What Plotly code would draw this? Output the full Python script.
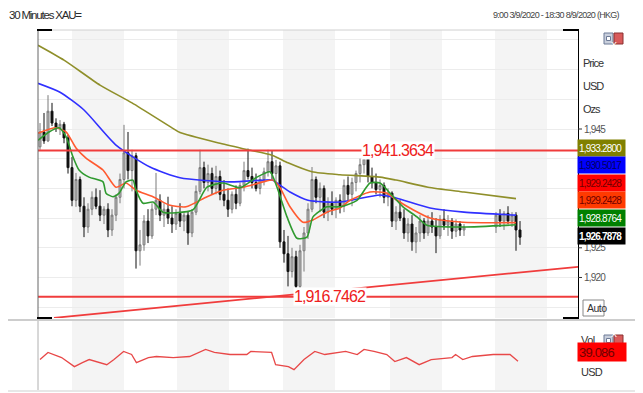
import plotly.graph_objects as go

# ---------------- data ----------------
bar_x = list(range(0, 107)) + list(range(114, 121))
bar_open = [1942.0, 1944.5, 1943.0, 1948.0, 1946.0, 1945.2, 1945.8, 1943.5, 1938.5, 1933.0,
            1936.5, 1932.0, 1928.5, 1931.5, 1933.5, 1932.0, 1930.5, 1931.5, 1928.0, 1930.5,
            1933.5, 1936.5, 1941.0, 1938.0, 1940.5, 1924.5, 1925.5, 1929.5, 1927.0, 1931.5,
            1933.0, 1930.5, 1931.5, 1930.0, 1929.0, 1930.8, 1929.5, 1930.5, 1927.5, 1931.0,
            1934.5, 1938.5, 1936.0, 1937.5, 1935.0, 1937.0, 1934.0, 1933.0, 1931.5, 1934.0,
            1932.5, 1935.5, 1938.0, 1937.0, 1936.0, 1935.0, 1936.5, 1937.8, 1939.5, 1937.5,
            1938.8, 1926.0, 1924.0, 1921.0, 1923.5, 1918.5, 1924.5, 1927.5, 1931.5, 1936.5,
            1933.5, 1935.0, 1931.0, 1932.5, 1931.5, 1933.0, 1932.0, 1935.5, 1934.0, 1936.0,
            1937.5, 1939.0, 1940.0, 1937.0, 1936.0, 1934.8, 1935.5, 1933.5, 1934.2, 1929.5,
            1931.0, 1930.0, 1927.5, 1929.0, 1926.0, 1927.5, 1929.5, 1927.5, 1929.5, 1928.5,
            1927.0, 1929.8, 1928.8, 1929.5, 1927.8, 1929.0, 1928.0,
            1928.5, 1930.5, 1929.5, 1930.8, 1929.5, 1930.5, 1928.0]
bar_high = [1946.0, 1947.7, 1950.7, 1949.4, 1946.8, 1946.5, 1946.2, 1944.0, 1940.3, 1937.6,
            1937.0, 1933.5, 1932.5, 1934.5, 1935.0, 1934.7, 1932.0, 1932.5, 1931.5, 1934.0,
            1937.5, 1945.7, 1944.5, 1941.5, 1941.0, 1928.0, 1930.5, 1931.5, 1932.5, 1937.6,
            1934.0, 1932.5, 1933.6, 1932.0, 1931.5, 1932.5, 1931.0, 1931.2, 1931.5, 1935.5,
            1941.5, 1939.5, 1939.0, 1938.5, 1938.8, 1938.0, 1936.4, 1935.0, 1934.5, 1935.5,
            1936.0, 1939.5, 1941.7, 1938.5, 1937.5, 1937.0, 1938.5, 1941.5, 1941.3, 1939.8,
            1939.5, 1928.0, 1927.0, 1925.0, 1924.5, 1925.5, 1928.5, 1932.5, 1938.6, 1937.0,
            1936.0, 1935.5, 1933.5, 1934.5, 1933.5, 1934.0, 1936.5, 1937.0, 1936.8, 1938.0,
            1940.0, 1941.0, 1940.8, 1938.5, 1937.5, 1936.5, 1936.0, 1935.0, 1934.5, 1932.0,
            1933.0, 1931.5, 1930.0, 1930.5, 1928.5, 1930.5, 1930.0, 1930.5, 1931.0, 1930.0,
            1930.5, 1931.5, 1930.5, 1930.0, 1929.8, 1929.5, 1929.0,
            1931.0, 1931.5, 1931.2, 1932.0, 1931.0, 1931.0, 1929.5]
bar_low = [1941.5, 1942.5, 1942.8, 1945.5, 1944.5, 1944.0, 1942.6, 1937.5, 1932.0, 1931.9,
           1931.0, 1926.8, 1927.5, 1930.5, 1931.5, 1929.5, 1929.0, 1926.8, 1927.0, 1929.5,
           1932.5, 1935.0, 1936.5, 1934.5, 1921.5, 1922.0, 1924.5, 1925.8, 1926.5, 1930.5,
           1929.5, 1928.5, 1929.0, 1927.5, 1928.0, 1928.5, 1927.8, 1925.5, 1926.8, 1930.5,
           1934.0, 1935.0, 1934.5, 1934.0, 1934.0, 1933.0, 1932.0, 1930.2, 1930.8, 1931.5,
           1932.0, 1934.5, 1936.5, 1935.0, 1934.5, 1934.0, 1935.5, 1937.0, 1936.5, 1936.0,
           1925.0, 1922.5, 1918.5, 1920.0, 1916.8, 1917.5, 1921.0, 1926.5, 1931.0, 1932.5,
           1931.0, 1930.0, 1929.5, 1930.5, 1930.0, 1930.8, 1931.0, 1933.0, 1932.0, 1934.5,
           1936.0, 1937.5, 1936.0, 1935.0, 1934.0, 1933.5, 1932.5, 1932.0, 1928.5, 1928.0,
           1929.5, 1926.5, 1926.0, 1924.5, 1924.1, 1926.0, 1926.5, 1927.0, 1927.5, 1924.1,
           1926.5, 1928.0, 1927.0, 1926.5, 1926.8, 1927.0, 1927.0,
           1927.5, 1928.5, 1928.0, 1929.0, 1928.5, 1924.5, 1925.5]
bar_close = [1944.5, 1943.0, 1948.0, 1946.0, 1945.2, 1945.8, 1943.5, 1938.5, 1933.0, 1936.5,
             1932.0, 1928.5, 1931.5, 1933.5, 1932.0, 1930.5, 1931.5, 1928.0, 1930.5, 1933.5,
             1936.5, 1941.0, 1938.0, 1940.5, 1924.5, 1925.5, 1929.5, 1927.0, 1931.5, 1933.0,
             1930.5, 1931.5, 1930.0, 1929.0, 1930.8, 1929.5, 1930.5, 1927.5, 1931.0, 1934.5,
             1938.5, 1936.0, 1937.5, 1935.0, 1937.0, 1934.0, 1933.0, 1931.5, 1934.0, 1932.5,
             1935.5, 1938.0, 1937.0, 1936.0, 1935.0, 1936.5, 1937.8, 1939.5, 1937.5, 1938.8,
             1926.0, 1924.0, 1921.0, 1923.5, 1918.5, 1924.5, 1927.5, 1931.5, 1936.5, 1933.5,
             1935.0, 1931.0, 1932.5, 1931.5, 1933.0, 1932.0, 1935.5, 1934.0, 1936.0, 1937.5,
             1939.0, 1940.0, 1937.0, 1936.0, 1934.8, 1935.5, 1933.5, 1934.2, 1929.5, 1931.0,
             1930.0, 1927.5, 1929.0, 1926.0, 1927.5, 1929.5, 1927.5, 1929.5, 1928.5, 1927.0,
             1929.8, 1928.8, 1929.5, 1927.8, 1929.0, 1928.0, 1928.5,
             1930.5, 1929.5, 1930.8, 1929.5, 1930.5, 1928.0, 1926.7878]

olive_x = [-0.5, 6, 15, 23, 33, 35, 45, 52, 58, 62, 68, 75, 85, 89, 97, 106, 119]
olive_y = [1959.1, 1956.6, 1952.4, 1949.4, 1945.2, 1944.4, 1942.6, 1941.5, 1940.6, 1939.3,
           1937.8, 1937.3, 1936.9, 1936.4, 1935.2, 1934.4, 1933.28]

blue_x = [-0.5, 5, 11, 19, 27.5, 35, 47.5, 56, 58, 62.5, 67, 75, 85, 89, 97.5, 106, 119]
blue_y = [1952.7, 1951.2, 1948.2, 1942.3, 1938.6, 1936.8, 1936.1, 1936.4, 1936.4, 1934.4,
          1933.0, 1932.7, 1933.9, 1933.4, 1931.7, 1931.0, 1930.5017]

red_x = [-0.5, 4, 6.5, 9, 11.5, 15.75, 19, 21.5, 24, 28.25, 32.25, 36.5, 41.75, 45.75, 50.75,
         55.75, 58.25, 60, 62.5, 65.75, 68.25, 71.75, 75, 77.5, 82.5, 86.75, 89.25, 93.25,
         97.5, 105.75, 119]
red_y = [1944.3, 1945.2, 1944.5, 1941.8, 1940.1, 1938.1, 1935.2, 1935.9, 1934.7, 1933.6,
         1932.2, 1931.9, 1933.6, 1934.7, 1935.2, 1936.1, 1936.4, 1935.1, 1931.9, 1929.3,
         1929.7, 1931.0, 1931.7, 1933.0, 1934.4, 1934.2, 1933.0, 1931.4, 1930.0, 1929.3,
         1929.2428]

green_x = [-0.5, 2.25, 4.75, 6.5, 8.25, 9.75, 12.25, 15.75, 16.5, 18.25, 19.75, 21.5, 23.25,
           24, 25.75, 28.25, 30.75, 34, 38.25, 41.75, 45.75, 50, 54.25, 57.5, 59.25, 61.75,
           64.25, 66.75, 68.25, 71.75, 75, 79.25, 82.5, 85, 87.5, 90.75, 94.25, 96.75,
           105.75, 119]
green_y = [1943.1, 1944.5, 1945.2, 1943.7, 1940.3, 1938.1, 1936.9, 1936.1, 1934.2, 1933.6,
           1934.2, 1936.1, 1936.4, 1934.7, 1932.5, 1932.7, 1931.0, 1930.9, 1931.4, 1935.2,
           1935.9, 1935.1, 1936.9, 1937.8, 1935.2, 1930.2, 1926.6, 1926.8, 1930.2, 1931.9,
           1931.9, 1933.0, 1935.9, 1935.9, 1934.2, 1931.9, 1930.2, 1928.8, 1928.5, 1928.8764]

resistance_level = 1941.3634
support_level = 1916.7462
trend_x = [3.5, 134.5]
trend_y = [1913.2, 1921.8]

vol_x = [0, 2, 5.4, 8.6, 10.6, 12.3, 16.7, 18.5, 20.9, 22.9, 24.1, 27.1, 29.1, 33.3, 37.4,
         41.4, 43.6, 47.5, 51.7, 52.7, 57.9, 58.9, 62.1, 63.5, 66, 68.7, 71.2, 76.4, 79.3,
         81, 83.5, 86.7, 88.7, 91.6, 94.8, 97.8, 103, 103.9, 105.7, 108.1, 113.3, 117.5, 119.5]
vol_y = [40.9, 48.1, 42.9, 33.7, 37.8, 40.9, 35.7, 40.9, 49.1, 46.0, 37.8, 42.9, 44.0, 42.9,
         44.0, 51.2, 48.1, 46.0, 46.0, 49.1, 48.1, 35.7, 33.7, 30.6, 40.9, 49.1, 46.0, 49.1,
         46.0, 51.2, 49.1, 46.0, 38.8, 42.9, 35.7, 40.9, 42.9, 46.0, 40.9, 44.0, 46.0, 46.0,
         39.086]

band_start = [8, 34.25, 60.75, 87.5, 113.75]
band_end = [21, 47.25, 73.75, 100.5, 126.75]

price_label_vals = [1945, 1925, 1920]
price_label_text = ["1,945", "1,925", "1,920"]

legend_labels = ["1,933.2800", "1,930.5017", "1,929.2428", "1,929.2428", "1,928.8764", "1,926.7878"]
legend_bg = ["#808000", "#0000ff", "#ff0000", "#ff3a00", "#008000", "#000000"]
legend_fg = ["#ffffff", "#000060", "#700000", "#700000", "#ffffff", "#ffffff"]

# ---------------- figure ----------------
# the page body has an 8px margin, so the figure is drawn 8px in from the window corner
OFF = 8
W, H = 643 - OFF, 393 - OFF
def px(x):
    return (x - OFF) / W
def py(y):
    return 1 - (y - OFF) / H

FONT = "Liberation Sans, Arial, sans-serif"

def sq(t, ls):
    return '<span style="letter-spacing:%spx">%s</span>' % (ls, t)

fig = go.Figure()

fig.add_trace(go.Candlestick(
    x=bar_x, open=bar_open, high=bar_high, low=bar_low, close=bar_close,
    increasing=dict(line=dict(color="#7a7a7a", width=1), fillcolor="#bdbdbd"),
    decreasing=dict(line=dict(color="#111111", width=1), fillcolor="#111111"),
    whiskerwidth=0, showlegend=False, xaxis="x", yaxis="y"))

for xs, ys, col in [(olive_x, olive_y, "#8f8f2a"), (blue_x, blue_y, "#3030ff"),
                    (red_x, red_y, "#ff5a30"), (green_x, green_y, "#2f9a2f")]:
    fig.add_trace(go.Scatter(x=xs, y=ys, mode="lines",
                             line=dict(color=col, width=1.6, shape="spline", smoothing=0.6),
                             showlegend=False, hoverinfo="skip", xaxis="x", yaxis="y"))

for lvl in (resistance_level, support_level):
    fig.add_trace(go.Scatter(x=[-0.5, 134.5], y=[lvl, lvl], mode="lines",
                             line=dict(color="#f03c3c", width=2),
                             showlegend=False, hoverinfo="skip", xaxis="x", yaxis="y"))
fig.add_trace(go.Scatter(x=trend_x, y=trend_y, mode="lines",
                         line=dict(color="#f03c3c", width=1.8),
                         showlegend=False, hoverinfo="skip", xaxis="x", yaxis="y"))

fig.add_trace(go.Scatter(x=vol_x, y=vol_y, mode="lines",
                         line=dict(color="#e84848", width=1.3),
                         showlegend=False, hoverinfo="skip", xaxis="x2", yaxis="y2"))

shapes = []
for s, e in zip(band_start, band_end):
    shapes.append(dict(type="rect", xref="x", yref="paper", x0=s, x1=e,
                       y0=py(318), y1=py(30), fillcolor="#f4f4f4", line_width=0, layer="below"))
    shapes.append(dict(type="rect", xref="x", yref="paper", x0=s, x1=e,
                       y0=py(390), y1=py(321), fillcolor="#f4f4f4", line_width=0, layer="below"))

def pline(x0, y0, x1, y1, color, width=1):
    shapes.append(dict(type="line", xref="paper", yref="paper", x0=px(x0), y0=py(y0),
                       x1=px(x1), y1=py(y1), line=dict(color=color, width=width)))

pline(38, 30, 578, 30, "#d0d0d0", 1)        # plot top
pline(38, 30, 38, 318, "#666666", 1)        # plot left
pline(8, 320, 643, 320, "#bdbdbd", 1.5)     # pane separator
pline(38, 321, 38, 390, "#b0b0b0", 1)       # lower pane left
pline(8, 391, 643, 391, "#cfcfcf", 1)       # bottom
for (a, b, c, d) in [(37, 30, 52, 30), (563, 30, 579, 30), (37, 318, 52, 318), (563, 318, 579, 318)]:
    pline(a, b, c, d, "#000000", 2)
# price tick marks
for v in price_label_vals:
    shapes.append(dict(type="line", xref="paper", yref="y", x0=px(578), x1=px(582), y0=v, y1=v,
                       line=dict(color="#333333", width=1)))

# icons
for ytop in (33, 335):
    shapes.append(dict(type="rect", xref="paper", yref="paper", x0=px(604), x1=px(613),
                       y0=py(ytop + 11), y1=py(ytop), fillcolor="#c9cfdc",
                       line=dict(color="#6d7a96", width=1)))
    shapes.append(dict(type="rect", xref="paper", yref="paper", x0=px(606.5), x1=px(610.5),
                       y0=py(ytop + 7.5), y1=py(ytop + 3.5), fillcolor="#ffffff",
                       line=dict(color="#6d7a96", width=1)))
    shapes.append(dict(type="rect", xref="paper", yref="paper", x0=px(614), x1=px(623),
                       y0=py(ytop + 11), y1=py(ytop), fillcolor="#d85a5a",
                       line=dict(color="#8a3030", width=1)))
# Auto box
shapes.append(dict(type="rect", xref="paper", yref="paper", x0=px(583), x1=px(604),
                   y0=py(316), y1=py(300), fillcolor="#ffffff", line=dict(color="#888888", width=1)))

ann = []
ann.append(dict(text=sq("30 Minutes XAU=", -1.2), x=px(7), y=py(15), xref="paper", yref="paper",
                xanchor="left", yanchor="middle", showarrow=False,
                font=dict(family=FONT, size=11.5, color="#2a2a2a")))
ann.append(dict(text=sq("9:00 3/9/2020 - 18:30 8/9/2020 (HKG)", -0.7), x=px(622), y=py(15),
                xref="paper", yref="paper", xanchor="right", yanchor="middle", showarrow=False,
                font=dict(family=FONT, size=9, color="#444444")))
for t, yy in [("Price", 63), ("USD", 86), ("Ozs", 109)]:
    ann.append(dict(text=sq(t, -1), x=px(581), y=py(yy), xref="paper", yref="paper",
                    xanchor="left", yanchor="middle", showarrow=False,
                    font=dict(family=FONT, size=11, color="#333333")))
for v, t in zip(price_label_vals, price_label_text):
    ann.append(dict(text=sq(t, -0.8), x=px(582), y=v, xref="paper", yref="y", xanchor="left",
                    yanchor="middle", showarrow=False,
                    font=dict(family=FONT, size=10, color="#555555")))
for k, (lab, bg, fg) in enumerate(zip(legend_labels, legend_bg, legend_fg)):
    yc = 147.5 + k * 17.6
    txt = sq(lab, -0.8)
    if k == len(legend_labels) - 1:
        txt = "<b>%s</b>" % txt
    ann.append(dict(text=txt, x=px(577), y=py(yc), xref="paper", yref="paper", xanchor="left",
                    yanchor="middle", showarrow=False, bgcolor=bg, width=45, height=14,
                    borderpad=1, align="left",
                    font=dict(family=FONT, size=10, color=fg)))
ann.append(dict(text=sq("Auto", -0.5), x=px(584.5), y=py(308), xref="paper", yref="paper",
                xanchor="left", yanchor="middle", showarrow=False,
                font=dict(family=FONT, size=10.5, color="#333333")))
for ytop in (33, 335):
    ann.append(dict(text="X", x=px(618.5), y=py(ytop + 5.5), xref="paper", yref="paper",
                    showarrow=False, font=dict(family=FONT, size=9, color="#ffffff")))
ann.append(dict(text=sq("1,941.3634", -0.9), x=89.5, y=resistance_level, xref="x", yref="y",
                showarrow=False, bgcolor="#ffffff", borderpad=0,
                font=dict(family=FONT, size=16, color="#ee2020")))
ann.append(dict(text=sq("1,916.7462", -0.9), x=72.5, y=support_level, xref="x", yref="y",
                showarrow=False, bgcolor="#ffffff", borderpad=0,
                font=dict(family=FONT, size=16, color="#ee2020")))
ann.append(dict(text=sq("Vol", -0.5), x=px(579), y=py(348), xref="paper", yref="paper",
                xanchor="left", showarrow=False, font=dict(family=FONT, size=11, color="#333333")))
ann.append(dict(text=sq("39.086", -0.8), x=px(577), y=py(362), xref="paper", yref="paper",
                xanchor="left", showarrow=False, bgcolor="#ff0000", width=46, height=16,
                align="left", font=dict(family=FONT, size=13, color="#700000")))
ann.append(dict(text=sq("USD", -0.8), x=px(579), y=py(380), xref="paper", yref="paper",
                xanchor="left", showarrow=False, font=dict(family=FONT, size=11, color="#333333")))

fig.update_layout(
    width=W, height=H, margin=dict(l=0, r=0, t=0, b=0),
    paper_bgcolor="#ffffff", plot_bgcolor="rgba(0,0,0,0)",
    showlegend=False, shapes=shapes, annotations=ann,
    font=dict(family=FONT),
    xaxis=dict(domain=[px(38), px(578)], range=[-0.5, 134.5], showticklabels=False,
               showgrid=False, zeroline=False, rangeslider=dict(visible=False), anchor="y"),
    yaxis=dict(domain=[py(318), py(30)], range=[1913.18, 1961.67], side="right",
               tickvals=list(range(1915, 1961, 5)), showticklabels=False, ticks="",
               showgrid=True, gridcolor="#ececec", gridwidth=1, zeroline=False,
               showline=True, linecolor="#000000", linewidth=1, anchor="x"),
    xaxis2=dict(domain=[px(38), px(578)], range=[-0.5, 134.5], matches="x", showticklabels=False,
                showgrid=False, zeroline=False, anchor="y2"),
    yaxis2=dict(domain=[py(390), py(321)], range=[10, 80], showticklabels=False,
                showgrid=False, zeroline=False, anchor="x2"),
)

fig.write_html("out.html")
